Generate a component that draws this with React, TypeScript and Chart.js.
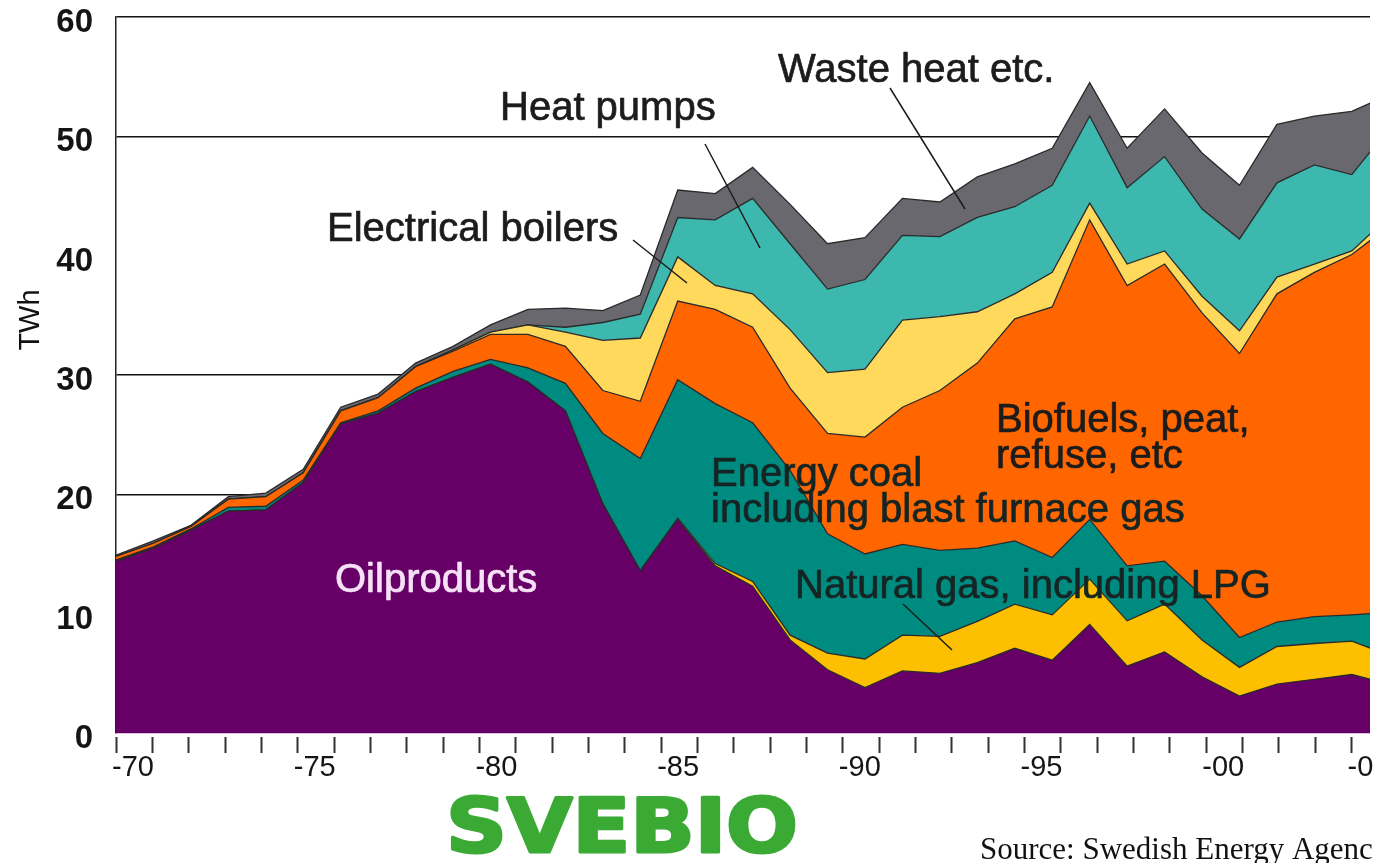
import React, { useEffect, useRef } from 'react';
import { Chart, registerables } from 'chart.js';

Chart.register(...registerables);

// ---------- DATA (TWh, stacked layers, 1970-2004) ----------
const years = [
  1970, 1971, 1972, 1973, 1974, 1975, 1976, 1977, 1978, 1979,
  1980, 1981, 1982, 1983, 1984, 1985, 1986, 1987, 1988, 1989,
  1990, 1991, 1992, 1993, 1994, 1995, 1996, 1997, 1998, 1999,
  2000, 2001, 2002, 2003, 2004,
];

const oilProducts = [
  14.4, 15.5, 17.0, 18.6, 18.7, 21.0, 25.9, 26.8, 28.6, 29.8,
  30.9, 29.4, 27.0, 19.2, 13.6, 17.9, 14.0, 12.3, 7.8, 5.3,
  3.8, 5.2, 5.0, 5.9, 7.1, 6.1, 9.1, 5.6, 6.8, 4.7,
  3.1, 4.1, 4.5, 4.9, 4.1,
];

const naturalGas = [
  0, 0, 0, 0, 0, 0, 0, 0, 0, 0,
  0, 0, 0, 0, 0, 0.1, 0.2, 0.4, 0.4, 1.4,
  2.4, 3.0, 3.1, 3.45, 3.7, 3.8, 3.8, 3.8, 4.0, 3.1,
  2.4, 3.15, 3.0, 2.8, 2.4,
];

const energyCoal = [
  0.1, 0.1, 0.1, 0.3, 0.3, 0.2, 0.1, 0.2, 0.3, 0.5,
  0.4, 1.2, 2.3, 5.9, 9.4, 11.6, 13.4, 13.3, 13.8, 10.0,
  8.8, 7.6, 7.2, 6.15, 5.3, 4.8, 5.0, 4.6, 3.6, 3.7,
  2.5, 2.05, 2.25, 2.2, 3.6,
];

const biofuels = [
  0.3, 0.3, 0.2, 0.7, 0.8, 0.6, 1.0, 1.1, 1.8, 1.7,
  2.1, 2.8, 3.1, 3.6, 4.8, 6.6, 7.9, 8.0, 6.9, 8.4,
  9.8, 11.5, 13.4, 15.5, 18.6, 21.0, 25.1, 23.5, 24.9, 23.7,
  23.8, 27.5, 28.85, 30.2, 32.4,
];

const electricalBoilers = [
  0, 0, 0, 0, 0, 0, 0, 0, 0, 0.1,
  0.2, 0.8, 1.2, 4.2, 5.3, 3.7, 2.0, 2.8, 4.9, 5.1,
  5.7, 7.3, 6.2, 4.3, 2.1, 2.9, 1.4, 1.8, 1.1, 1.4,
  1.9, 1.4, 0.7, 0.3, 0.8,
];

const heatPumps = [
  0, 0, 0, 0, 0, 0, 0, 0, 0, 0,
  0, 0, 0.4, 1.5, 2.0, 3.3, 5.5, 8.0, 7.2, 7.0,
  7.5, 7.1, 6.7, 7.9, 7.3, 7.3, 7.3, 6.4, 7.9, 7.3,
  7.7, 7.9, 8.3, 6.4, 7.4,
];

const wasteHeat = [
  0.1, 0.2, 0.1, 0.2, 0.3, 0.3, 0.3, 0.3, 0.3, 0.3,
  0.6, 1.3, 1.6, 1.0, 1.6, 2.3, 2.2, 2.6, 3.3, 3.8,
  3.5, 3.1, 2.9, 3.4, 3.6, 3.1, 2.8, 3.3, 4.0, 4.7,
  4.5, 4.9, 4.1, 5.3, 2.8,
];

const yTickValues = [0, 10, 20, 30, 40, 50, 60];
const tickYears = [
  1970, 1971, 1972, 1973, 1974, 1975, 1976, 1977, 1978, 1979,
  1980, 1981, 1982, 1983, 1984, 1985, 1986, 1987, 1988, 1989,
  1990, 1991, 1992, 1993, 1994, 1995, 1996, 1997, 1998, 1999,
  2000, 2001, 2002, 2003, 2004,
];
const labeledYears = [1970, 1975, 1980, 1985, 1990, 1995, 2000, 2004];
const yearLabels = ['-70', '-75', '-80', '-85', '-90', '-95', '-00', '-04'];

// ---------- STYLE ----------
const FONT = '"Liberation Sans", Arial, Helvetica, sans-serif';
const DATA_MAX = 2003.485; // visible data range of the picture (cropped on the right)
const TICK_MAX = 2004.507; // visible range of the tick axis

const layers = [
  { label: 'Oilproducts', values: oilProducts, color: '#660066' },
  { label: 'Natural gas, including LPG', values: naturalGas, color: '#fcc000' },
  { label: 'Energy coal including blast furnace gas', values: energyCoal, color: '#008b80' },
  { label: 'Biofuels, peat, refuse, etc', values: biofuels, color: '#ff6600' },
  { label: 'Electrical boilers', values: electricalBoilers, color: '#ffd95c' },
  { label: 'Heat pumps', values: heatPumps, color: '#3cb8ae' },
  { label: 'Waste heat etc.', values: wasteHeat, color: '#69686e' },
];

const notes = [
  { text: 'Waste heat etc.', x: 778, y: 82, color: '#1c1c1c' },
  { text: 'Heat pumps', x: 500, y: 120, color: '#1c1c1c' },
  { text: 'Electrical boilers', x: 327, y: 241, color: '#1c1c1c' },
  { text: 'Biofuels, peat,', x: 996, y: 432, color: '#1c1c1c' },
  { text: 'refuse, etc', x: 996, y: 468, color: '#1c1c1c' },
  { text: 'Energy coal', x: 711, y: 486, color: '#152524' },
  { text: 'including blast furnace gas', x: 711, y: 522, color: '#152524' },
  { text: 'Oilproducts', x: 335, y: 592, color: '#f6e2f6' },
  { text: 'Natural gas, including LPG', x: 795, y: 598, color: '#152524' },
];

const leaders = [
  [890, 88, 965, 209],
  [705, 144, 760, 248],
  [633, 240, 687, 283],
  [903, 604, 952, 650],
];

const annotationPlugin = {
  id: 'svebioAnnotations',
  afterDraw(chart: any) {
    const ctx: CanvasRenderingContext2D = chart.ctx;
    ctx.save();
    ctx.textAlign = 'left';
    ctx.textBaseline = 'alphabetic';
    ctx.font = `40px ${FONT}`;
    ctx.lineJoin = 'round';
    for (const n of notes) {
      ctx.fillStyle = n.color;
      ctx.strokeStyle = n.color;
      ctx.lineWidth = 0.7;
      ctx.fillText(n.text, n.x, n.y);
      ctx.strokeText(n.text, n.x, n.y);
    }
    ctx.strokeStyle = '#1c1c1c';
    ctx.lineWidth = 1.5;
    for (const l of leaders) {
      ctx.beginPath();
      ctx.moveTo(l[0], l[1]);
      ctx.lineTo(l[2], l[3]);
      ctx.stroke();
    }
    // axis title
    ctx.save();
    ctx.translate(31, 320);
    ctx.rotate(-Math.PI / 2);
    ctx.textAlign = 'center';
    ctx.textBaseline = 'middle';
    ctx.font = `29px ${FONT}`;
    ctx.fillStyle = '#111';
    ctx.fillText('TWh', 0, 0);
    ctx.restore();
    // SVEBIO logo
    ctx.save();
    ctx.font = `bold 75px "DejaVu Sans", ${FONT}`;
    const w = ctx.measureText('SVEBIO').width;
    ctx.translate(446, 852);
    ctx.scale(352 / w, 1);
    ctx.fillStyle = '#3aaa35';
    ctx.strokeStyle = '#3aaa35';
    ctx.lineWidth = 3;
    ctx.lineJoin = 'round';
    ctx.fillText('SVEBIO', 0, 0);
    ctx.strokeText('SVEBIO', 0, 0);
    ctx.restore();
    // source
    ctx.font = '31px "Liberation Serif", "Times New Roman", serif';
    ctx.fillStyle = '#111';
    ctx.fillText('Source: Swedish Energy Agency', 980, 859);
    ctx.restore();
  },
};

export default function App() {
  const ref = useRef<HTMLCanvasElement>(null);

  useEffect(() => {
    const canvas = ref.current;
    if (!canvas) return;
    const datasets = layers.map((l, i) => ({
      label: l.label,
      data: years.map((yr, k) => ({ x: yr, y: l.values[k] })),
      backgroundColor: l.color,
      borderColor: '#2a2a2a',
      borderWidth: 1.3,
      pointRadius: 0,
      pointHoverRadius: 0,
      tension: 0,
      fill: i === 0 ? 'origin' : '-1',
      xAxisID: 'x',
      yAxisID: 'y',
    }));

    const chart = new Chart(canvas, {
      type: 'line',
      data: { datasets },
      options: {
        animation: false,
        responsive: false,
        devicePixelRatio: 1,
        events: [],
        layout: { padding: { left: 0, top: 17, right: 3, bottom: 70 } },
        plugins: {
          legend: { display: false },
          tooltip: { enabled: false },
          title: { display: false },
        },
        scales: {
          x: {
            type: 'linear',
            min: 1970,
            max: DATA_MAX,
            display: false,
          },
          xt: {
            type: 'linear',
            position: 'bottom',
            min: 1970,
            max: TICK_MAX,
            afterBuildTicks: (s: any) => {
              s.ticks = tickYears.map((v) => ({ value: v }));
            },
            afterFit: (s: any) => {
              s.height = 60;
              s.paddingLeft = 0;
              s.paddingRight = 0;
            },
            grid: {
              drawOnChartArea: false,
              drawTicks: true,
              tickLength: 20,
              tickWidth: 2,
              tickColor: '#333',
              tickBorderDash: [0, 4, 16, 100],
            },
            border: { display: false },
            ticks: {
              autoSkip: false,
              maxRotation: 0,
              minRotation: 0,
              padding: -2,
              labelOffset: 17,
              color: '#151515',
              font: { family: FONT, size: 29 },
              callback: (v: any) => {
                const idx = labeledYears.indexOf(Number(v));
                return idx >= 0 ? yearLabels[idx] : '';
              },
            },
          },
          y: {
            type: 'linear',
            stacked: true,
            min: 0,
            max: 60,
            z: 1,
            afterBuildTicks: (s: any) => {
              s.ticks = yTickValues.map((v) => ({ value: v }));
            },
            afterFit: (s: any) => {
              s.width = 116;
              s.paddingTop = 0;
              s.paddingBottom = 0;
            },
            grid: {
              drawTicks: false,
              lineWidth: 1.4,
              color: (c: any) => {
                const v = c.tick ? c.tick.value : -1;
                if (v === 40) return 'rgba(0,0,0,0)';
                if (v === 0) return '#b58ab5';
                return '#111';
              },
            },
            border: { display: true, color: '#222', width: 1.5 },
            ticks: {
              padding: 23,
              labelOffset: 6,
              color: '#151515',
              font: { family: FONT, size: 33, weight: 'bold' },
            },
          },
        },
      } as any,
      plugins: [annotationPlugin],
    });

    return () => chart.destroy();
  }, []);

  return (
    <div
      style={{
        position: 'fixed',
        left: 0,
        top: 0,
        width: 1373,
        height: 863,
        overflow: 'hidden',
        background: '#ffffff',
      }}
    >
      <canvas
        ref={ref}
        width={1373}
        height={863}
        style={{ display: 'block', width: 1373, height: 863 }}
      />
    </div>
  );
}
